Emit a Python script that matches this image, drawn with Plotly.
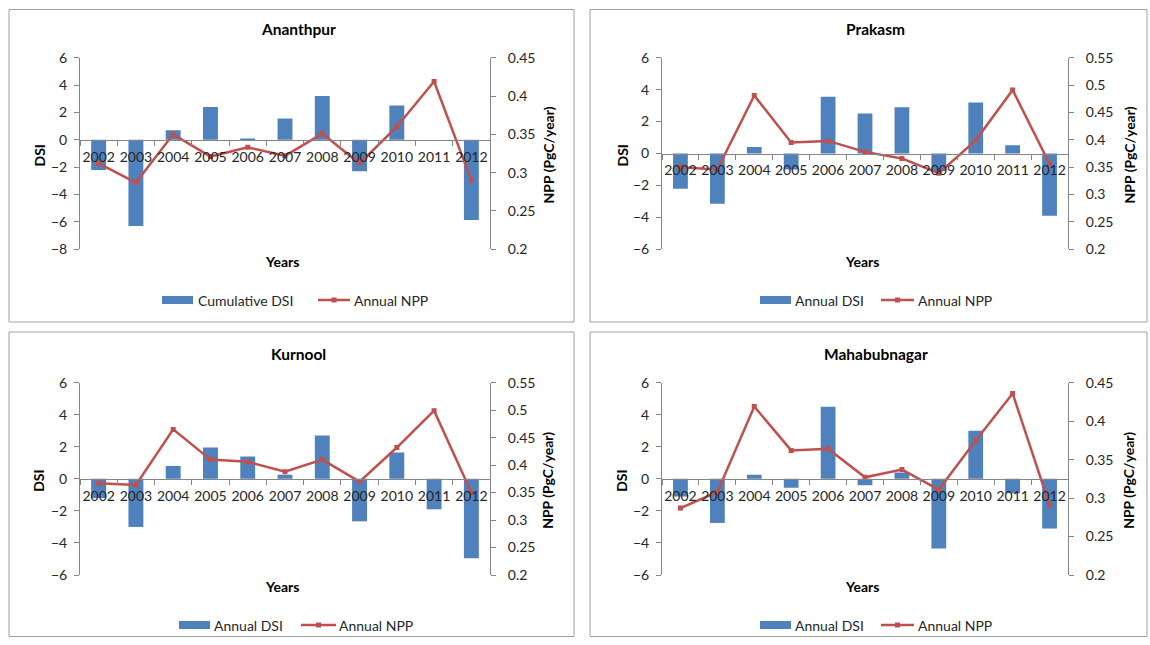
import plotly.graph_objects as go

# ---- data -------------------------------------------------------------
years = ["2002", "2003", "2004", "2005", "2006", "2007",
         "2008", "2009", "2010", "2011", "2012"]

ananthpur_dsi = [-2.2, -6.3, 0.7, 2.4, 0.1, 1.55, 3.2, -2.3, 2.5, 0.0, -5.85]
ananthpur_npp = [0.312, 0.287, 0.350, 0.321, 0.333, 0.322, 0.351, 0.312, 0.360, 0.419, 0.290]

prakasm_dsi = [-2.2, -3.15, 0.4, -1.0, 3.55, 2.5, 2.9, -1.1, 3.2, 0.52, -3.9]
prakasm_npp = [0.350, 0.346, 0.481, 0.395, 0.398, 0.378, 0.366, 0.339, 0.399, 0.491, 0.356]

kurnool_dsi = [-1.2, -3.0, 0.8, 1.95, 1.4, 0.25, 2.7, -2.65, 1.65, -1.9, -4.95]
kurnool_npp = [0.367, 0.364, 0.465, 0.410, 0.406, 0.388, 0.410, 0.370, 0.432, 0.499, 0.350]

mahabubnagar_dsi = [-1.1, -2.75, 0.25, -0.55, 4.5, -0.4, 0.4, -4.35, 3.0, -0.9, -3.1]
mahabubnagar_npp = [0.287, 0.308, 0.419, 0.362, 0.364, 0.327, 0.337, 0.311, 0.375, 0.436, 0.291]

# ---- page geometry (pixels) --------------------------------------------
W, H = 1150, 645
TOP, SPAN = 8, 628          # pixel rows covered by the paper area
BAR_COLOR = "#4F81BD"
LINE_COLOR = "#C0504D"
AXIS_COLOR = "#868686"
TEXT_COLOR = "#262626"
FONT = "Lato"

panels = [
    dict(name="Ananthpur", dsi=ananthpur_dsi, npp=ananthpur_npp, bar_name="Cumulative DSI",
         box=(9, 8.5, 574, 321), plot=(80, 490, 56.7, 248.3), yl=(-8, 6), yr=(0.2, 0.45),
         title_y=28, years_y=260, dsi_x=39, npp_x=548,
         leg=dict(y=299, bar=(162, 193), bar_txt=196, line=(318, 350), line_txt=352)),
    dict(name="Prakasm", dsi=prakasm_dsi, npp=prakasm_npp, bar_name="Annual DSI",
         box=(590, 8.5, 1147, 321), plot=(662, 1068, 56.7, 248.3), yl=(-6, 6), yr=(0.2, 0.55),
         title_y=28, years_y=260, dsi_x=622, npp_x=1129,
         leg=dict(y=299, bar=(760, 791), bar_txt=793, line=(881, 914), line_txt=916)),
    dict(name="Kurnool", dsi=kurnool_dsi, npp=kurnool_npp, bar_name="Annual DSI",
         box=(9, 331, 574, 635.5), plot=(80, 490, 381.7, 574), yl=(-6, 6), yr=(0.2, 0.55),
         title_y=353, years_y=585, dsi_x=39, npp_x=548,
         leg=dict(y=624, bar=(179, 210), bar_txt=212, line=(301, 336), line_txt=337)),
    dict(name="Mahabubnagar", dsi=mahabubnagar_dsi, npp=mahabubnagar_npp, bar_name="Annual DSI",
         box=(590, 331, 1147, 635.5), plot=(662, 1068, 381.7, 574), yl=(-6, 6), yr=(0.2, 0.45),
         title_y=353, years_y=585, dsi_x=622, npp_x=1129,
         leg=dict(y=624, bar=(760, 791), bar_txt=793, line=(881, 914), line_txt=916)),
]


def px(x):
    return x / W


def py(y):
    return 1 - (y - TOP) / SPAN


def label(text, x, y, size=14, color="#000", angle=0, xanchor="center"):
    return dict(text=text, x=px(x), y=py(y), xref="paper", yref="paper", showarrow=False,
                xanchor=xanchor, yanchor="middle", textangle=angle,
                font=dict(family=FONT, size=size, color=color))


fig = go.Figure()
shapes, annotations = [], []
layout_axes = {}
tick_font = dict(family=FONT, size=14, color=TEXT_COLOR)

for i, p in enumerate(panels, start=1):
    xname = f"x{i}"
    yl_name, yr_name = f"y{2 * i - 1}", f"y{2 * i}"
    l, r, t, b = p["plot"]

    fig.add_trace(go.Bar(x=years, y=p["dsi"], name=p["bar_name"], width=0.4,
                         marker=dict(color=BAR_COLOR, line=dict(width=0)),
                         xaxis=xname, yaxis=yl_name, showlegend=False))
    fig.add_trace(go.Scatter(x=years, y=p["npp"], name="Annual NPP", mode="lines+markers",
                             line=dict(color=LINE_COLOR, width=2.5),
                             marker=dict(symbol="square", size=5, color=LINE_COLOR),
                             xaxis=xname, yaxis=yr_name, showlegend=False))

    ydom = [py(b), py(t)]
    lo, hi = p["yl"]
    zero_pos = ydom[0] + (0 - lo) / (hi - lo) * (ydom[1] - ydom[0])

    layout_axes[f"xaxis{i}"] = dict(
        domain=[px(l), px(r)], type="category", range=[-0.5, len(years) - 0.5],
        anchor="free", position=zero_pos, showline=True, linecolor=AXIS_COLOR, linewidth=1,
        ticks="outside", tickson="boundaries", ticklen=5, tickcolor=AXIS_COLOR,
        tickangle=0, ticklabelstandoff=4, showgrid=False, zeroline=False,
        tickfont=tick_font, fixedrange=True)
    layout_axes[f"yaxis{2 * i - 1}"] = dict(
        domain=ydom, anchor=xname, range=list(p["yl"]), dtick=2, tick0=0,
        showline=True, linecolor=AXIS_COLOR, ticks="outside", ticklen=5, tickcolor=AXIS_COLOR,
        showgrid=False, zeroline=False, tickfont=tick_font, ticklabelstandoff=4)
    layout_axes[f"yaxis{2 * i}"] = dict(
        overlaying=yl_name, side="right", anchor=xname, range=list(p["yr"]), dtick=0.05,
        tick0=0.2, showline=True, linecolor=AXIS_COLOR, ticks="outside", ticklen=5,
        tickcolor=AXIS_COLOR, showgrid=False, zeroline=False, tickfont=tick_font,
        ticklabelstandoff=9)

    # chart frame
    bx0, by0, bx1, by1 = p["box"]
    shapes.append(dict(type="rect", xref="paper", yref="paper", x0=px(bx0), x1=px(bx1),
                       y0=py(by1), y1=py(by0), line=dict(color="#a0a0a0", width=1),
                       layer="below"))

    cx = (bx0 + bx1) / 2 + 7
    annotations.append(label(f"<b>{p['name']}</b>", cx, p["title_y"], size=15.5))
    annotations.append(label("<b>Years</b>", (l + r) / 2 - 3, p["years_y"]))
    annotations.append(label("<b>DSI</b>", p["dsi_x"], (t + b) / 2 + 2, angle=-90))
    annotations.append(label("<b>NPP (PgC/year)</b>", p["npp_x"], (t + b) / 2 + 2, angle=-90))

    # legend keys
    lg = p["leg"]
    ly = lg["y"]
    shapes.append(dict(type="rect", xref="paper", yref="paper", x0=px(lg["bar"][0]),
                       x1=px(lg["bar"][1]), y0=py(ly + 4), y1=py(ly - 4),
                       fillcolor=BAR_COLOR, line=dict(width=0)))
    annotations.append(label(p["bar_name"], lg["bar_txt"], ly, color=TEXT_COLOR, xanchor="left"))
    shapes.append(dict(type="line", xref="paper", yref="paper", x0=px(lg["line"][0]),
                       x1=px(lg["line"][1]), y0=py(ly), y1=py(ly),
                       line=dict(color=LINE_COLOR, width=2.5)))
    mx = (lg["line"][0] + lg["line"][1]) / 2
    shapes.append(dict(type="rect", xref="paper", yref="paper", x0=px(mx - 2.5),
                       x1=px(mx + 2.5), y0=py(ly + 2.5), y1=py(ly - 2.5),
                       fillcolor=LINE_COLOR, line=dict(width=0)))
    annotations.append(label("Annual NPP", lg["line_txt"], ly, color=TEXT_COLOR, xanchor="left"))

fig.update_layout(
    width=W, height=H, margin=dict(l=0, r=0, t=0, b=0),
    paper_bgcolor="white", plot_bgcolor="rgba(0,0,0,0)",
    bargap=0.6, showlegend=False, shapes=shapes, annotations=annotations,
    font=dict(family=FONT, color=TEXT_COLOR),
    **layout_axes,
)

fig.write_html("out.html")
